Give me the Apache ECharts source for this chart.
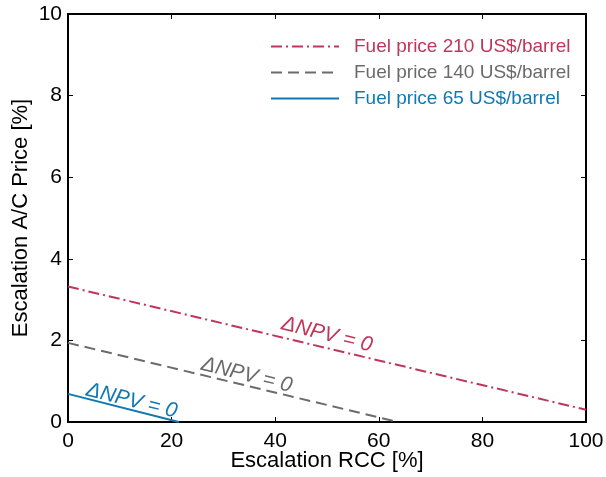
<!DOCTYPE html>
<html><head><meta charset="utf-8">
<script src="https://cdn.jsdelivr.net/npm/echarts@6/dist/echarts.min.js"></script>
<style>html,body{margin:0;padding:0;background:#fff}#c{width:606px;height:477px}</style>
</head><body><div id="c"></div>
<script>
const seriesNames = ['Fuel price 210 US$/barrel','Fuel price 140 US$/barrel','Fuel price 65 US$/barrel'];
const red210 = [[0,3.32],[100,0.30]];
const gray140 = [[0,1.94],[63.7,0]];
const blue65 = [[0,0.69],[21.4,0]];
const lineLabels = ['ΔNPV = 0','ΔNPV = 0','ΔNPV = 0'];
const labelPos = [[50,2.14],[34.5,1.15],[12.3,0.52]];
const xTicks = [0,20,40,60,80,100];
const yTicks = [0,2,4,6,8,10];
const colors = ['#c0365a','#6b6b6b','#1079b2'];
const font = 'Liberation Sans, Arial, Helvetica, sans-serif';

const chart = echarts.init(document.getElementById('c'));
const axisCommon = {
  axisLine:{show:true,onZero:false,lineStyle:{color:'#000',width:2}},
  axisTick:{show:true,inside:true,length:5,lineStyle:{color:'#000',width:1}},
  splitLine:{show:false}
};
function mk(name,data,color,type,i){
  return {name, type:'line', data, symbol:'none', showSymbol:false, xAxisIndex:0, yAxisIndex:0,
    lineStyle:{color, width:2, type}, itemStyle:{color}, animation:false,
    markPoint:{symbol:'circle', symbolSize:0, silent:true, animation:false,
      data:[{coord:labelPos[i], label:{show:true, formatter:lineLabels[i], rotate:-14, color,
        fontSize:21, fontStyle:'italic', fontFamily:font, position:'inside'}}]}};
}
chart.setOption({
  animation:false,
  grid:{left:68,right:20,top:14,bottom:55,outerBoundsMode:'none',containLabel:false},
  legend:{
    orient:'vertical', left:265, top:32, itemWidth:68, itemHeight:14, itemGap:7,
    itemStyle:{opacity:0},
    data:seriesNames.map((n,i)=>({name:n, textStyle:{color:colors[i]}})),
    textStyle:{fontSize:19, fontFamily:font, padding:[0,0,0,10]}
  },
  xAxis:[
    Object.assign({type:'value',min:0,max:100,interval:20,position:'bottom',
      name:'Escalation RCC [%]',nameLocation:'middle',nameGap:28,nameMoveOverlap:false,
      nameTextStyle:{fontSize:22,color:'#000',fontFamily:font},
      axisLabel:{color:'#000',fontSize:21,fontFamily:font,margin:9}},axisCommon),
    Object.assign({type:'value',min:0,max:100,interval:20,position:'top',axisLabel:{show:false}},axisCommon)
  ],
  yAxis:[
    Object.assign({type:'value',min:0,max:10,interval:2,position:'left',
      name:'Escalation A/C Price [%]',nameLocation:'middle',nameGap:36,nameMoveOverlap:false,
      nameTextStyle:{fontSize:22,color:'#000',fontFamily:font},
      axisLabel:{color:'#000',fontSize:21,fontFamily:font,margin:6}},axisCommon),
    Object.assign({type:'value',min:0,max:10,interval:2,position:'right',axisLabel:{show:false}},axisCommon)
  ],
  series:[
    mk(seriesNames[0],red210,colors[0],[11,4,2,4],0),
    mk(seriesNames[1],gray140,colors[1],[11,6],1),
    mk(seriesNames[2],blue65,colors[2],'solid',2)
  ]
});
</script></body></html>
